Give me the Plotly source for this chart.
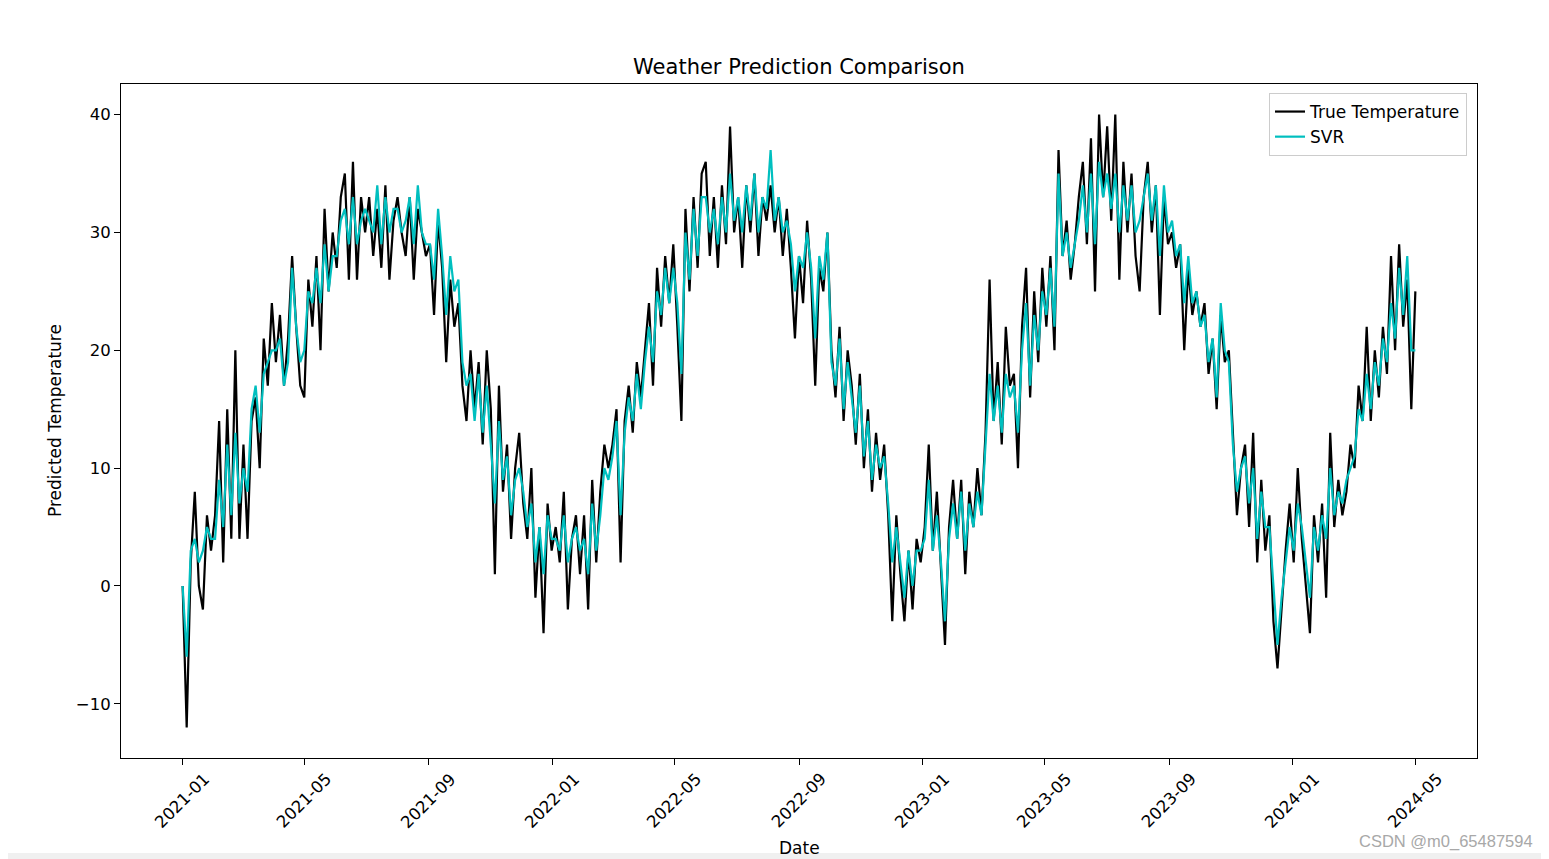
import pandas as pd
import plotly.graph_objects as go

start_date = "2021-01-01"
step = "4D"

true_temp = [
    # 2021
    0, -12, 2, 8, 0, -2, 6, 3,
    6, 14, 2, 15, 4, 20, 4,
    12, 4, 14, 16, 10, 21, 17, 24,
    19, 23, 17, 21, 28, 22, 17,
    16, 26, 22, 28, 20, 32, 25, 30,
    27, 33, 35, 26, 36, 26, 33, 30,
    33, 28, 32, 27, 34, 26, 31,
    33, 30, 28, 33, 26, 32, 30, 28,
    29, 23, 31, 27, 19, 26, 22, 24,
    17, 14, 20, 15, 19, 12, 20,
    15, 1, 17, 8, 12, 4, 10, 13,
    7, 4, 10, -1, 5, -4, 7, 3,
    # 2022
    5, 2, 8, -2, 4, 6, 1,
    6, -2, 9, 2, 8, 12, 10,
    12, 15, 2, 14, 17, 13, 19, 16,
    20, 24, 17, 27, 22, 28, 24, 29,
    22, 14, 32, 25, 33, 27, 35,
    36, 28, 33, 27, 34, 29, 39, 30,
    33, 27, 34, 30, 35, 28, 33, 31,
    34, 30, 33, 28, 32, 27, 21,
    28, 24, 31, 26, 17, 27, 25, 30,
    20, 16, 22, 14, 20, 17, 12, 18,
    10, 15, 8, 13, 9, 12, 6,
    -3, 6, 1, -3, 3, -2, 4, 2,
    # 2023
    5, 12, 3, 8, 1, -5, 5, 9,
    4, 9, 1, 8, 5, 10, 6,
    13, 26, 14, 19, 12, 22, 17,
    18, 10, 22, 27, 16, 25, 19, 27,
    22, 28, 20, 37, 28, 31, 26, 29,
    33, 36, 29, 38, 25, 40, 33,
    39, 31, 40, 26, 36, 30, 35, 28,
    25, 33, 36, 30, 34, 23, 33, 29,
    30, 27, 29, 20, 27, 23, 25,
    22, 24, 18, 21, 15, 23, 19, 20,
    13, 6, 10, 12, 5, 13, 2,
    9, 3, 6, -3, -7, -2, 3, 7,
    # 2024
    2, 10, 4, 0, -4, 6, 2, 7,
    -1, 13, 5, 9, 6, 8, 12,
    10, 17, 14, 22, 14, 20, 16, 22,
    18, 28, 20, 29, 22, 26, 15,
    25,
]

svr_pred = [
    # 2021
    0, -6, 3, 4, 2, 3, 5, 4,
    4, 9, 5, 12, 6, 13, 7,
    10, 8, 15, 17, 13, 18, 19, 20,
    20, 21, 17, 19, 27, 22, 19,
    20, 25, 24, 27, 24, 29, 25, 28,
    28, 31, 32, 29, 33, 29, 31, 32,
    31, 30, 34, 29, 33, 30, 32,
    32, 30, 31, 33, 29, 34, 30, 29,
    29, 26, 32, 28, 23, 28, 25, 26,
    19, 17, 18, 14, 18, 13, 17,
    12, 7, 14, 9, 11, 6, 9, 10,
    8, 5, 7, 2, 5, 1, 6, 4,
    # 2022
    4, 3, 6, 2, 4, 5, 3,
    4, 1, 7, 3, 6, 10, 9,
    11, 14, 6, 13, 16, 14, 18, 15,
    19, 22, 19, 25, 23, 27, 24, 27,
    24, 18, 30, 26, 32, 28, 33,
    33, 30, 32, 29, 33, 30, 35, 31,
    33, 30, 34, 31, 35, 30, 33, 32,
    37, 31, 33, 30, 31, 29, 25,
    28, 27, 30, 27, 21, 28, 26, 30,
    19, 17, 21, 15, 19, 16, 13, 17,
    11, 14, 9, 12, 10, 11, 7,
    2, 5, 2, -1, 3, 0, 3, 3,
    # 2023
    4, 9, 3, 6, 2, -3, 4, 7,
    4, 8, 3, 7, 5, 8, 6,
    12, 18, 14, 17, 13, 18, 16,
    17, 13, 20, 24, 17, 23, 20, 25,
    23, 27, 22, 35, 28, 30, 27, 29,
    31, 34, 30, 35, 29, 36, 33,
    35, 32, 35, 30, 34, 31, 34, 30,
    31, 33, 35, 31, 34, 28, 34, 30,
    31, 28, 29, 24, 28, 24, 25,
    22, 23, 19, 21, 16, 24, 20, 19,
    12, 8, 10, 11, 7, 10, 4,
    8, 5, 5, 0, -5, -1, 2, 5,
    # 2024
    3, 7, 5, 2, -1, 5, 3, 6,
    4, 10, 6, 8, 7, 9, 10,
    11, 15, 14, 18, 15, 19, 17, 21,
    19, 24, 21, 27, 23, 28, 20,
    20,
]

tick_labels = ["2021-01", "2021-05", "2021-09", "2022-01", "2022-05", "2022-09",
               "2023-01", "2023-05", "2023-09", "2024-01", "2024-05"]
y_ticks = [-10, 0, 10, 20, 30, 40]

dates = pd.date_range(start_date, periods=len(true_temp), freq=step)
tick_dates = [pd.Timestamp(t + "-01") for t in tick_labels]

fig = go.Figure()
fig.add_trace(go.Scatter(x=dates, y=true_temp, mode="lines", name="True Temperature",
                         line=dict(color="black", width=2.2)))
fig.add_trace(go.Scatter(x=dates, y=svr_pred, mode="lines", name="SVR",
                         line=dict(color="#00bfbf", width=2.2)))

font_family = "DejaVu Sans, Arial, sans-serif"
x0 = pd.Timestamp("2021-01-01") - pd.Timedelta(days=60.8)
x1 = pd.Timestamp("2024-05-01") + pd.Timedelta(days=60.8)

W, H = 1541, 851
L, T, PW, PH = 113, 76, 1356, 674
fig.update_layout(
    width=W, height=H,
    margin=dict(l=L, r=W - L - PW, t=T, b=H - T - PH),
    paper_bgcolor="white", plot_bgcolor="white",
    font=dict(family=font_family, color="black", size=17),
    title=dict(text="Weather Prediction Comparison", x=0.5, xref="paper",
               y=1 - 59 / H, yref="container", yanchor="middle", xanchor="center",
               font=dict(size=21, family=font_family, color="black")),
    showlegend=True,
    legend=dict(x=(1459 - L) / PW, y=(T + PH - 85) / PH, xanchor="right", yanchor="top",
                bgcolor="rgba(255,255,255,0.8)", bordercolor="#cccccc", borderwidth=1,
                font=dict(size=17, family=font_family), tracegroupgap=0),
)
fig.update_xaxes(
    range=[x0, x1], showgrid=False, zeroline=False,
    showline=True, linecolor="black", linewidth=1, mirror=True,
    ticks="outside", ticklen=6, tickcolor="black",
    tickvals=tick_dates, showticklabels=False,
)
fig.update_yaxes(
    range=[-14.6, 42.6], showgrid=False, zeroline=False,
    showline=True, linecolor="black", linewidth=1, mirror=True,
    ticks="outside", ticklen=6, tickcolor="black",
    tickvals=y_ticks, ticktext=["\u221210" if v == -10 else str(v) for v in y_ticks],
    tickfont=dict(size=16.5),
)
# rotated x tick labels, centred under ticks (matplotlib style)
for d, lab in zip(tick_dates, tick_labels):
    fig.add_annotation(text=lab, x=d, xref="x", yref="paper", y=-(759 - T - PH) / PH,
                       xanchor="center", yanchor="top", textangle=-45, showarrow=False,
                       font=dict(size=16.5))
# axis titles
fig.add_annotation(text="Date", xref="paper", yref="paper", x=0.5, y=-(840 - T - PH) / PH,
                   xanchor="center", yanchor="middle", showarrow=False, font=dict(size=17))
fig.add_annotation(text="Predicted Temperature", xref="paper", yref="paper",
                   x=(47 - L) / PW, y=0.5, textangle=-90,
                   xanchor="center", yanchor="middle", showarrow=False, font=dict(size=17))
# bottom grey strip and watermark
fig.add_shape(type="rect", xref="paper", yref="paper", x0=-0.2, x1=1.2,
              y0=-(H - T - PH) / PH - 0.01, y1=-(845 - T - PH) / PH,
              fillcolor="#f0f0f0", line=dict(width=0), layer="below")
fig.add_annotation(text="CSDN @m0_65487594", xref="paper", yref="paper",
                   x=(1527 - L) / PW, y=-(833 - T - PH) / PH, xanchor="right", yanchor="middle",
                   showarrow=False,
                   font=dict(size=16.5, color="#a8a8a8", family="Liberation Sans, Arial, sans-serif"))

fig.write_html("out.html")
